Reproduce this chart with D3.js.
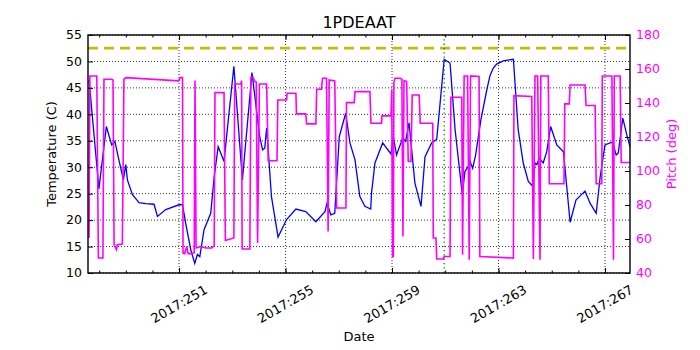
<!DOCTYPE html>
<html>
<head>
    <script src="https://cdnjs.cloudflare.com/ajax/libs/d3/7.8.5/d3.min.js"></script>
    <style>
        body { margin: 0; background: white; }
        text { font-family: "DejaVu Sans", sans-serif; }
        .temp-line { fill: none; stroke: #0000ff; stroke-width: 1.3; }
        .pitch-line { fill: none; stroke: #ff00ff; stroke-width: 1.6; }
        .grid line { stroke: #000; stroke-width: 0.8; stroke-dasharray: 1,2; }
    </style>
</head>
<body>
    <svg width="700" height="350"></svg>
    <script>
        // Temperature samples (day of year 2017, deg C)
        const tempDays = [
            247.62, 247.99, 248.27, 248.47, 248.59, 248.74, 248.91, 249.00, 249.06, 249.25,
            249.50, 249.75, 250.06, 250.19, 250.50, 251.00, 251.13, 251.25, 251.44, 251.59,
            251.69, 251.78, 251.94, 252.19, 252.32, 252.47, 252.69, 253.06, 253.38, 253.74,
            254.03, 254.14, 254.22, 254.29, 254.35, 254.47, 254.72, 255.04, 255.39, 255.76,
            256.14, 256.48, 256.56, 256.70, 256.85, 257.02, 257.26, 257.42, 257.61, 257.79,
            257.98, 258.20, 258.23, 258.36, 258.65, 258.96, 259.05, 259.17, 259.40, 259.51,
            259.64, 259.86, 260.09, 260.24, 260.49, 260.68, 260.96, 261.18, 261.37, 261.64,
            261.74, 261.86, 261.93, 262.03, 262.14, 262.34, 262.56, 262.68, 262.80, 262.93,
            263.18, 263.40, 263.56, 263.74, 263.93, 264.12, 264.27, 264.37, 264.44, 264.53,
            264.68, 264.81, 264.96, 265.19, 265.44, 265.69, 265.91, 266.25, 266.44, 266.67,
            266.82, 267.00, 267.19, 267.29, 267.42, 267.50, 267.67, 267.82, 267.94
        ];
        const tempValues = [
            46.5, 25.9, 37.7, 34.2, 34.9, 31.4, 27.6, 30.5, 27.6, 24.8,
            23.3, 23.1, 23.0, 20.7, 22.0, 22.9, 22.9, 19.4, 14.4, 11.8,
            13.5, 13.1, 18.2, 21.3, 28.2, 33.9, 31.1, 49.1, 27.6, 47.9,
            35.8, 33.3, 33.6, 37.4, 33.3, 24.5, 16.8, 20.1, 22.1, 21.6,
            19.7, 21.6, 23.2, 21.0, 21.3, 35.8, 40.2, 34.6, 31.4, 24.5,
            22.6, 22.1, 25.1, 30.8, 34.6, 32.5, 35.8, 32.3, 35.5, 34.9,
            38.4, 27.0, 22.6, 32.0, 34.6, 35.3, 50.4, 49.7, 37.1, 24.8,
            29.2, 30.1, 31.1, 29.8, 32.3, 39.0, 44.6, 47.3, 48.7, 49.5,
            50.1, 50.3, 50.4, 37.1, 30.8, 27.3, 26.5, 30.8, 30.5, 31.7,
            30.8, 32.9, 37.7, 34.2, 32.9, 19.6, 23.8, 25.5, 23.2, 21.3,
            28.2, 34.2, 34.6, 34.7, 32.3, 32.7, 39.3, 36.1, 33.9
        ];

        // Pitch samples (day of year 2017, deg)
        const pitchDays = [
            247.62, 247.65, 247.91, 247.97, 248.14, 248.18, 248.47, 248.52, 248.56, 248.65,
            248.68, 248.87, 248.93, 249.00, 250.98, 251.04, 251.13, 251.15, 251.21, 251.29,
            251.34, 251.48, 251.57, 251.60, 251.64, 251.82, 252.00, 252.23, 252.32, 252.35,
            252.69, 252.74, 253.06, 253.09, 253.32, 253.35, 253.37, 253.66, 253.70, 253.78,
            253.85, 253.90, 253.95, 254.02, 254.29, 254.35, 254.68, 254.71, 255.04, 255.06,
            255.39, 255.41, 255.76, 255.79, 256.14, 256.17, 256.35, 256.39, 256.54, 256.60,
            256.64, 256.85, 256.92, 257.27, 257.29, 257.58, 257.61, 258.17, 258.21, 258.61,
            258.62, 258.96, 258.99, 259.02, 259.05, 259.07, 259.11, 259.30, 259.37, 259.41,
            259.45, 259.55, 259.61, 259.71, 259.76, 260.02, 260.06, 260.53, 260.55, 260.65,
            260.68, 260.92, 260.96, 261.18, 261.21, 261.62, 261.65, 261.71, 261.84, 261.90,
            261.95, 262.27, 262.30, 263.56, 263.58, 264.25, 264.31, 264.37, 264.47, 264.56,
            264.59, 264.87, 264.91, 265.46, 265.49, 265.66, 265.69, 266.25, 266.29, 266.63,
            266.67, 266.88, 266.90, 267.26, 267.32, 267.35, 267.57, 267.61, 267.94
        ];
        const pitchValues = [
            60.6, 155.9, 155.9, 48.8, 48.8, 154.0, 154.0, 153.6, 56.6, 53.7,
            56.6, 57.0, 154.0, 154.9, 153.0, 154.9, 154.9, 51.7, 51.4, 55.6,
            51.4, 51.4, 52.0, 153.2, 54.7, 55.6, 54.7, 54.7, 56.0, 146.1,
            146.1, 59.1, 60.6, 151.2, 151.2, 153.2, 54.1, 54.1, 155.1, 155.1,
            152.6, 152.3, 57.6, 151.2, 151.2, 106.0, 106.0, 141.8, 141.8, 145.7,
            145.7, 133.6, 133.6, 127.7, 127.7, 148.1, 148.1, 154.6, 154.6, 64.4,
            153.6, 153.0, 78.2, 78.2, 140.2, 140.2, 146.7, 146.7, 128.1, 128.1,
            132.4, 132.4, 147.7, 49.7, 49.7, 152.0, 154.6, 154.6, 154.0, 61.5,
            153.2, 152.6, 105.6, 105.6, 144.7, 144.7, 128.1, 128.1, 60.6, 60.6,
            48.2, 48.2, 49.7, 49.7, 143.4, 143.4, 50.7, 155.9, 155.9, 47.8,
            155.9, 155.6, 49.7, 48.8, 144.3, 143.8, 48.2, 155.9, 155.9, 47.8,
            155.9, 155.9, 92.5, 92.5, 139.5, 139.5, 150.6, 150.6, 138.5, 138.5,
            92.5, 92.5, 155.9, 155.9, 47.8, 155.9, 155.9, 105.0, 105.0
        ];

        // Reference lines
        const tempLimit = 52.5;
        const markerDay = 260.96;

        // Tick values
        const dayTicks = [251, 255, 259, 263, 267];
        const minorDayTicks = d3.range(248, 268);
        const tempTicks = d3.range(10, 56, 5);
        const pitchTicks = d3.range(40, 181, 20);

        const tempData = tempDays.map((d, i) => ({ day: d, value: tempValues[i] }));
        const pitchData = pitchDays.map((d, i) => ({ day: d, value: pitchValues[i] }));

        const plotLeft = 88, plotRight = 630, plotTop = 35, plotBottom = 273;

        const svg = d3.select("svg");

        const x = d3.scaleLinear().domain([247.58, 267.94]).range([plotLeft, plotRight]);
        const yT = d3.scaleLinear().domain([10, 55]).range([plotBottom, plotTop]);
        const yP = d3.scaleLinear().domain([40, 180]).range([plotBottom, plotTop]);

        // Grid (dotted, at major ticks of x and left y)
        const grid = svg.append("g").attr("class", "grid");
        grid.selectAll(".vg").data(dayTicks).enter().append("line")
            .attr("x1", d => x(d)).attr("x2", d => x(d))
            .attr("y1", plotTop).attr("y2", plotBottom);
        grid.selectAll(".hg").data(tempTicks).enter().append("line")
            .attr("x1", plotLeft).attr("x2", plotRight)
            .attr("y1", d => yT(d)).attr("y2", d => yT(d));

        // Temperature line
        const tempLine = d3.line().x(d => x(d.day)).y(d => yT(d.value));
        svg.append("path").datum(tempData).attr("class", "temp-line").attr("d", tempLine);

        // Limit line
        svg.append("line")
            .attr("x1", plotLeft).attr("x2", plotRight)
            .attr("y1", yT(tempLimit)).attr("y2", yT(tempLimit))
            .attr("stroke", "#bfbf00").attr("stroke-width", 2.8)
            .attr("stroke-dasharray", "10,6");

        // Pitch line (twin axis, on top)
        const pitchLine = d3.line().x(d => x(d.day)).y(d => yP(d.value));
        svg.append("path").datum(pitchData).attr("class", "pitch-line").attr("d", pitchLine);

        // Vertical marker
        svg.append("line")
            .attr("x1", x(markerDay)).attr("x2", x(markerDay))
            .attr("y1", plotTop).attr("y2", plotBottom)
            .attr("stroke", "#008000").attr("stroke-width", 1.3)
            .attr("stroke-dasharray", "1.3,3");

        // Axes: inward ticks, classic style
        svg.append("g").attr("transform", `translate(0,${plotBottom})`)
            .call(d3.axisTop(x).tickValues(dayTicks).tickSize(5).tickFormat(""));
        svg.append("g").attr("transform", `translate(0,${plotBottom})`)
            .call(d3.axisTop(x).tickValues(minorDayTicks).tickSize(2.5).tickFormat(""));
        svg.append("g").attr("transform", `translate(0,${plotTop})`)
            .call(d3.axisBottom(x).tickValues(dayTicks).tickSize(5).tickFormat(""));
        svg.append("g").attr("transform", `translate(0,${plotTop})`)
            .call(d3.axisBottom(x).tickValues(minorDayTicks).tickSize(2.5).tickFormat(""));

        svg.append("g").attr("transform", `translate(${plotLeft},0)`)
            .call(d3.axisRight(yT).tickValues(tempTicks).tickSize(5).tickFormat(""));
        svg.append("g").attr("transform", `translate(${plotRight},0)`)
            .call(d3.axisLeft(yP).tickValues(pitchTicks).tickSize(5).tickFormat(""));
        svg.selectAll(".domain").remove();
        svg.selectAll(".tick line").attr("stroke", "#000").attr("stroke-width", 1);

        // Frame
        svg.append("rect")
            .attr("x", plotLeft).attr("y", plotTop)
            .attr("width", plotRight - plotLeft).attr("height", plotBottom - plotTop)
            .attr("fill", "none").attr("stroke", "#000").attr("stroke-width", 1.4);

        // Tick labels
        svg.selectAll(".xl").data(dayTicks).enter().append("text")
            .attr("transform", d => `translate(${x(d)},304) rotate(-30)`)
            .attr("text-anchor", "middle").attr("dy", "0.35em")
            .style("font-size", "13px")
            .text(d => "2017:" + d3.format("03d")(d));

        svg.selectAll(".yl").data(tempTicks).enter().append("text")
            .attr("x", plotLeft - 6).attr("y", d => yT(d)).attr("dy", "0.35em")
            .attr("text-anchor", "end").style("font-size", "12.5px")
            .text(d => d);

        svg.selectAll(".yr").data(pitchTicks).enter().append("text")
            .attr("x", plotRight + 6).attr("y", d => yP(d)).attr("dy", "0.35em")
            .attr("fill", "#ff00ff").style("font-size", "12.5px")
            .text(d => d);

        // Titles
        svg.append("text").attr("x", (plotLeft + plotRight) / 2).attr("y", 28)
            .attr("text-anchor", "middle").style("font-size", "16px").text("1PDEAAT");
        svg.append("text").attr("x", (plotLeft + plotRight) / 2).attr("y", 341)
            .attr("text-anchor", "middle").style("font-size", "13px").text("Date");
        svg.append("text")
            .attr("transform", `translate(56,${(plotTop + plotBottom) / 2}) rotate(-90)`)
            .attr("text-anchor", "middle").style("font-size", "13px")
            .text("Temperature (C)");
        svg.append("text")
            .attr("transform", `translate(676,${(plotTop + plotBottom) / 2}) rotate(-90)`)
            .attr("text-anchor", "middle").attr("fill", "#ff00ff").style("font-size", "13px")
            .text("Pitch (deg)");
    </script>
</body>
</html>
